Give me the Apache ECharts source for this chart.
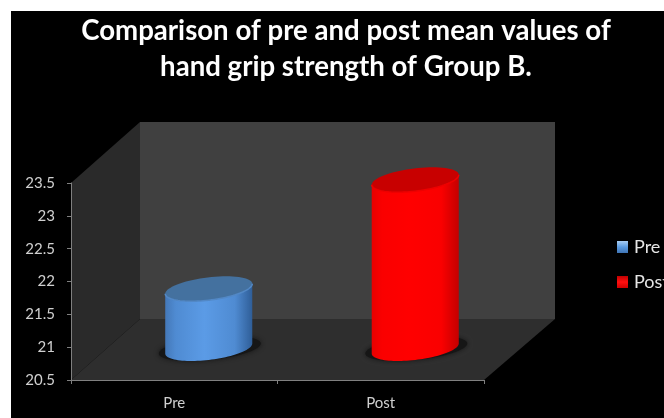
<!DOCTYPE html>
<html>
<head>
<meta charset="utf-8">
<style>
  html, body { margin: 0; padding: 0; width: 664px; height: 418px; background: #fff; overflow: hidden; }
  #chart { position: absolute; left: 11px; top: 11px; width: 653px; height: 407px; background: #000; }
</style>
<script src="https://cdn.jsdelivr.net/npm/echarts@6/dist/echarts.min.js"></script>
</head>
<body>
<div id="chart"></div>
<script>
const titleText = 'Comparison of pre and post mean values of\nhand grip strength of Group B.';
const categories = ['Pre', 'Post'];
const preValues = [[0, 21.41]];
const postValues = [[1, 23.07]];
const axisMin = 20.5;
const axisMax = 23.5;
const axisStep = 0.5;

// Oblique box depth and cylinder proportions, in pixels
const DEPTH_X = 69, DEPTH_Y = 61;
const MID_X = 34.5, MID_Y = 31.5;
const RADIUS_U = 39.9, SKEW_V = 17.4, HEIGHT_V = 12.5;

const Gradient = echarts.graphic.LinearGradient;
const T_RIGHT = Math.atan2(SKEW_V, RADIUS_U);

function ringPoint(c, t) {
  return [
    c[0] + RADIUS_U * Math.cos(t) + SKEW_V * Math.sin(t),
    c[1] - HEIGHT_V * Math.sin(t)
  ];
}

function ring(c, scaleX, scaleY) {
  const pts = [];
  for (let i = 0; i < 72; i++) {
    const p = ringPoint(c, i / 72 * Math.PI * 2);
    pts.push([c[0] + (p[0] - c[0]) * scaleX, c[1] + (p[1] - c[1]) * scaleY]);
  }
  return pts;
}

// Front half of a ring, from its right end round to its left end
function frontArc(c) {
  const pts = [];
  for (let i = 0; i <= 48; i++) pts.push(ringPoint(c, T_RIGHT - i / 48 * Math.PI));
  return pts;
}

function body(top, base) {
  return frontArc(top).concat(frontArc(base).reverse());
}

function cylinder(palette) {
  return function (params, api) {
    const i = api.value(0);
    const a = api.coord([i, axisMin]);
    const b = api.coord([i, api.value(1)]);
    const base = [a[0] + MID_X, a[1] - MID_Y];
    const top = [b[0] + MID_X, b[1] - MID_Y];
    return {
      type: 'group',
      children: [
        {
          type: 'polygon',
          shape: { points: ring([base[0] + 1, base[1]], 1.17, 1.0) },
          style: { fill: '#161616', shadowBlur: 5, shadowColor: 'rgba(10,10,10,0.7)' }
        },
        {
          type: 'polygon',
          shape: { points: body(top, base) },
          style: {
            fill: new Gradient(0, 0, 1, 0, [
              { offset: 0, color: palette.edgeLeft },
              { offset: 0.12, color: palette.mid },
              { offset: 0.45, color: palette.light },
              { offset: 0.8, color: palette.mid },
              { offset: 1, color: palette.edgeRight }
            ])
          }
        },
        {
          type: 'polygon',
          shape: { points: ring(top, 1, 1) },
          style: { fill: palette.top }
        },
        {
          type: 'polyline',
          shape: { points: frontArc(top) },
          style: { fill: 'none', stroke: palette.rim, lineWidth: 1.5 }
        }
      ]
    };
  };
}

function walls(params) {
  const g = params.coordSys;
  const l = g.x, r = g.x + g.width, t = g.y, b = g.y + g.height;
  const poly = (points, fill) => ({ type: 'polygon', shape: { points }, style: { fill } });
  return {
    type: 'group',
    children: [
      poly([[l + DEPTH_X, t - DEPTH_Y], [r + DEPTH_X + 2, t - DEPTH_Y], [r + DEPTH_X + 2, b - DEPTH_Y], [l + DEPTH_X, b - DEPTH_Y]], '#404040'),
      poly([[l, t], [l + DEPTH_X, t - DEPTH_Y], [l + DEPTH_X, b - DEPTH_Y], [l, b]], '#2a2a2a'),
      poly([[l, b], [l + DEPTH_X, b - DEPTH_Y], [r + DEPTH_X + 2, b - DEPTH_Y], [r, b]], '#2e2e2e')
    ]
  };
}

const bluePalette = { edgeLeft: '#4478b8', mid: '#4f8bd2', light: '#5b9be6', edgeRight: '#2f5e98', top: '#44719f', rim: '#5288c6' };
const redPalette = { edgeLeft: '#e80000', mid: '#fa0000', light: '#ff0000', edgeRight: '#c40000', top: '#c80000', rim: '#ee0000' };

const chart = echarts.init(document.getElementById('chart'), null, { renderer: 'canvas' });
chart.setOption({
  animation: false,
  backgroundColor: '#000',
  title: {
    text: titleText,
    left: 330,
    top: -3,
    textAlign: 'center',
    textStyle: { color: '#fff', fontFamily: 'Lato', fontWeight: 'bold', fontSize: 27.6, lineHeight: 36 }
  },
  legend: {
    orient: 'vertical',
    left: 606,
    top: 227,
    itemWidth: 11,
    itemHeight: 12,
    itemGap: 17,
    padding: 0,
    textStyle: { color: '#e6e6e6', fontFamily: 'Lato', fontSize: 18, padding: [0, 0, 0, 1] },
    data: [
      { name: 'Pre', icon: 'rect', itemStyle: { color: new Gradient(0, 0, 0, 1, [{ offset: 0, color: '#a8cdf2' }, { offset: 0.5, color: '#5b9be0' }, { offset: 1, color: '#3f74b4' }]) } },
      { name: 'Post', icon: 'rect', itemStyle: { color: new Gradient(0, 0, 0, 1, [{ offset: 0, color: '#c00000' }, { offset: 0.5, color: '#ff1010' }, { offset: 1, color: '#d00000' }]) } }
    ]
  },
  grid: { left: 60, right: 180, top: 172, bottom: 38 },
  xAxis: {
    type: 'category',
    data: categories,
    z: 5,
    axisLine: { lineStyle: { color: '#808080', width: 1 } },
    axisTick: { show: true, length: 4, lineStyle: { color: '#808080' } },
    axisLabel: { color: '#d0d0d0', fontFamily: 'Lato', fontSize: 15, margin: 16 },
    splitLine: { show: false }
  },
  yAxis: {
    type: 'value',
    min: axisMin,
    max: axisMax,
    interval: axisStep,
    z: 5,
    axisLine: { show: true, lineStyle: { color: '#808080', width: 1 } },
    axisTick: { show: true, length: 4, lineStyle: { color: '#808080' } },
    axisLabel: { color: '#d0d0d0', fontFamily: 'Lato', fontSize: 15, margin: 16 },
    splitLine: { show: false }
  },
  series: [
    { name: 'Walls', type: 'custom', z: 1, silent: true, clip: false, renderItem: walls, data: [[0, axisMin]] },
    { name: 'Pre', type: 'custom', z: 2, clip: false, itemStyle: { color: '#5b9be0' }, renderItem: cylinder(bluePalette), data: preValues },
    { name: 'Post', type: 'custom', z: 2, clip: false, itemStyle: { color: '#ff0000' }, renderItem: cylinder(redPalette), data: postValues }
  ]
});
</script>
</body>
</html>
